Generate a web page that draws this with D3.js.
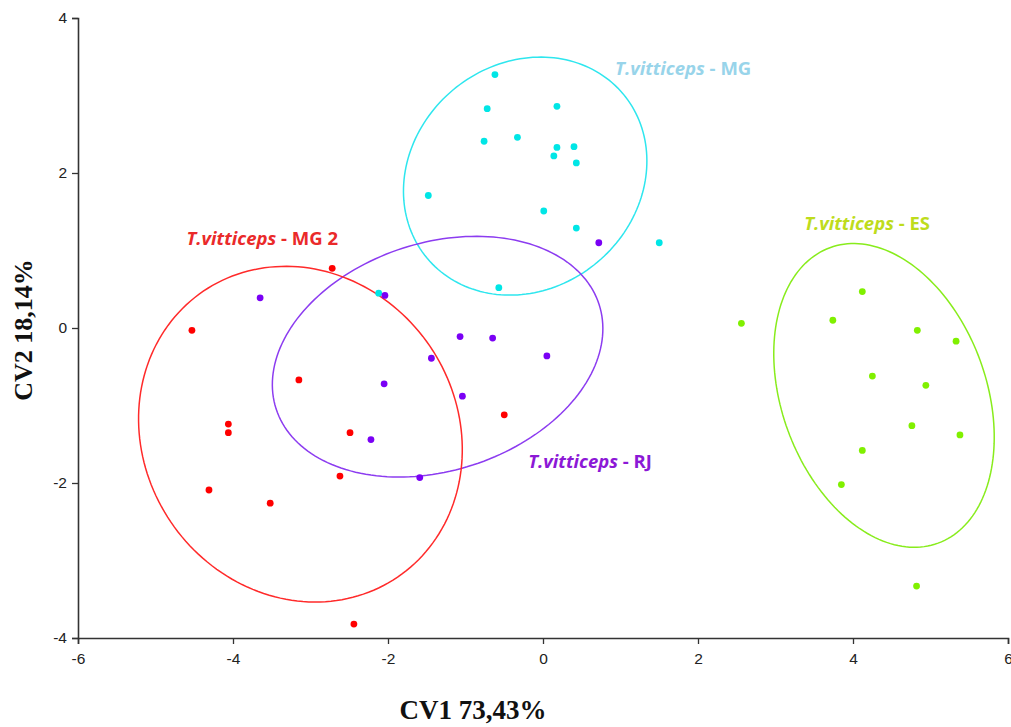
<!DOCTYPE html>
<html><head><meta charset="utf-8">
<script src="https://cdn.jsdelivr.net/npm/d3@7"></script>
<style>
html,body{margin:0;padding:0;background:#fff;}
svg{display:block;}
</style></head>
<body>
<script>
// ---- data ----
const groups = ["T.vitticeps - MG","T.vitticeps - RJ","T.vitticeps - MG 2","T.vitticeps - ES"];
const speciesName = "T.vitticeps";
const groupSuffix = [" - MG"," - RJ"," - MG 2"," - ES"];
const xTicks = [-6,-4,-2,0,2,4,6];
const yTicks = [-4,-2,0,2,4];
const xTitle = "CV1 73,43%";
const yTitle = "CV2 18,14%";

const mgX = [-0.62,-0.72,0.18,-0.76,-0.33,0.18,0.40,0.14,0.43,-1.48,0.01,0.43,1.50,-0.57,-2.12];
const mgY = [3.27,2.83,2.86,2.41,2.46,2.33,2.34,2.22,2.13,1.71,1.51,1.29,1.10,0.52,0.45];

const rjX = [0.72,-3.65,-2.04,-2.05,-1.07,-0.65,0.05,-1.44,-1.04,-1.59,-2.22];
const rjY = [1.10,0.39,0.42,-0.72,-0.11,-0.13,-0.36,-0.39,-0.88,-1.93,-1.44];

const mg2X = [-2.72,-4.53,-3.15,-4.06,-4.06,-2.49,-2.62,-4.31,-3.52,-2.44,-0.50];
const mg2Y = [0.77,-0.03,-0.67,-1.24,-1.35,-1.35,-1.91,-2.09,-2.26,-3.82,-1.12];

const esX = [2.56,4.12,3.74,4.83,5.33,4.25,4.94,4.76,5.38,4.12,3.85,4.82];
const esY = [0.06,0.47,0.10,-0.03,-0.17,-0.62,-0.74,-1.26,-1.38,-1.58,-2.02,-3.33];

// confidence ellipses: centre x, centre y, semi-major, semi-minor, angle (deg)
const ellCx = [-0.23,-1.36,-3.13,4.40];
const ellCy = [1.96,-0.37,-1.37,-0.87];
const ellA  = [1.65,2.19,2.23,2.03];
const ellB  = [1.45,1.47,2.02,1.32];
const ellAng= [40,17.9,-55.8,-69.9];

// label anchor positions (data units)
const labX = [0.93,-0.19,-4.60,3.37];
const labY = [3.26,-1.81,1.07,1.27];

// ---- styles ----
const pointColor = ["#00e6e6","#7a00f5","#ff0000","#80f000"];
const ellColor   = ["#2ee6ee","#8c3cf0","#ff2a2a","#88ec1c"];
const labColor   = ["#98d4ea","#8c18d6","#ea2a2a","#bedc1c"];

const W = 1011, H = 727;
const svg = d3.select("body").append("svg").attr("width",W).attr("height",H);

const x = d3.scaleLinear().domain([-6,6]).range([78,1008]);
const y = d3.scaleLinear().domain([-4,4]).range([638,18]);

const sets = [[mgX,mgY],[rjX,rjY],[mg2X,mg2Y],[esX,esY]];

// ellipses
const line = d3.line().x(d=>x(d[0])).y(d=>y(d[1])).curve(d3.curveLinearClosed);
ellCx.forEach((cx,i)=>{
  const th = ellAng[i]*Math.PI/180, a=ellA[i], b=ellB[i], cy=ellCy[i];
  const pts = d3.range(0,360,2).map(t=>{
    const r=t*Math.PI/180;
    return [cx + a*Math.cos(th)*Math.cos(r) - b*Math.sin(th)*Math.sin(r),
            cy + a*Math.sin(th)*Math.cos(r) + b*Math.cos(th)*Math.sin(r)];
  });
  svg.append("path").attr("d",line(pts)).attr("fill","none")
    .attr("stroke",ellColor[i]).attr("stroke-width",1.5);
});

// points
sets.forEach((s,i)=>{
  svg.append("g").selectAll("circle").data(s[0].map((v,j)=>[v,s[1][j]])).join("circle")
    .attr("cx",d=>x(d[0])).attr("cy",d=>y(d[1])).attr("r",3.4)
    .attr("fill",pointColor[i]);
});

// axes
const fontTick = "'Liberation Sans Narrow','Arial Narrow','Liberation Sans',sans-serif";
const xa = svg.append("g").attr("transform","translate(0,638)")
  .call(d3.axisBottom(x).tickValues(xTicks).tickSize(6).tickPadding(9).tickFormat(d3.format("d")));
const ya = svg.append("g").attr("transform","translate(78,0)")
  .call(d3.axisLeft(y).tickValues(yTicks).tickSize(6).tickPadding(5).tickFormat(d3.format("d")));
[xa,ya].forEach(g=>{
  g.select(".domain").attr("stroke","#333").attr("stroke-width",1.6);
  g.selectAll(".tick line").attr("stroke","#333").attr("stroke-width",1.3);
  g.selectAll(".tick text").attr("font-family",fontTick).attr("font-size",15.5).attr("fill","#222");
});
svg.selectAll(".tick text").text(d=>String(d));

// axis titles
svg.append("text").attr("x",473).attr("y",719).attr("text-anchor","middle")
  .attr("font-family","'Liberation Serif','Times New Roman',serif").attr("font-weight","bold")
  .attr("font-size",27).attr("fill","#111").text(xTitle);
svg.append("text").attr("transform","translate(32,330) rotate(-90)").attr("text-anchor","middle")
  .attr("font-family","'Liberation Serif','Times New Roman',serif").attr("font-weight","bold")
  .attr("font-size",26).attr("fill","#111").text(yTitle);

// group labels
groups.forEach((g,i)=>{
  const t = svg.append("text").attr("x",x(labX[i])).attr("y",y(labY[i]))
    .attr("font-family","'Open Sans','Noto Sans',sans-serif").attr("font-weight","bold")
    .attr("font-size",18.5).attr("fill",labColor[i]);
  t.append("tspan").attr("font-style","italic").text(speciesName);
  t.append("tspan").text(groupSuffix[i]);
});
</script>
</body></html>
